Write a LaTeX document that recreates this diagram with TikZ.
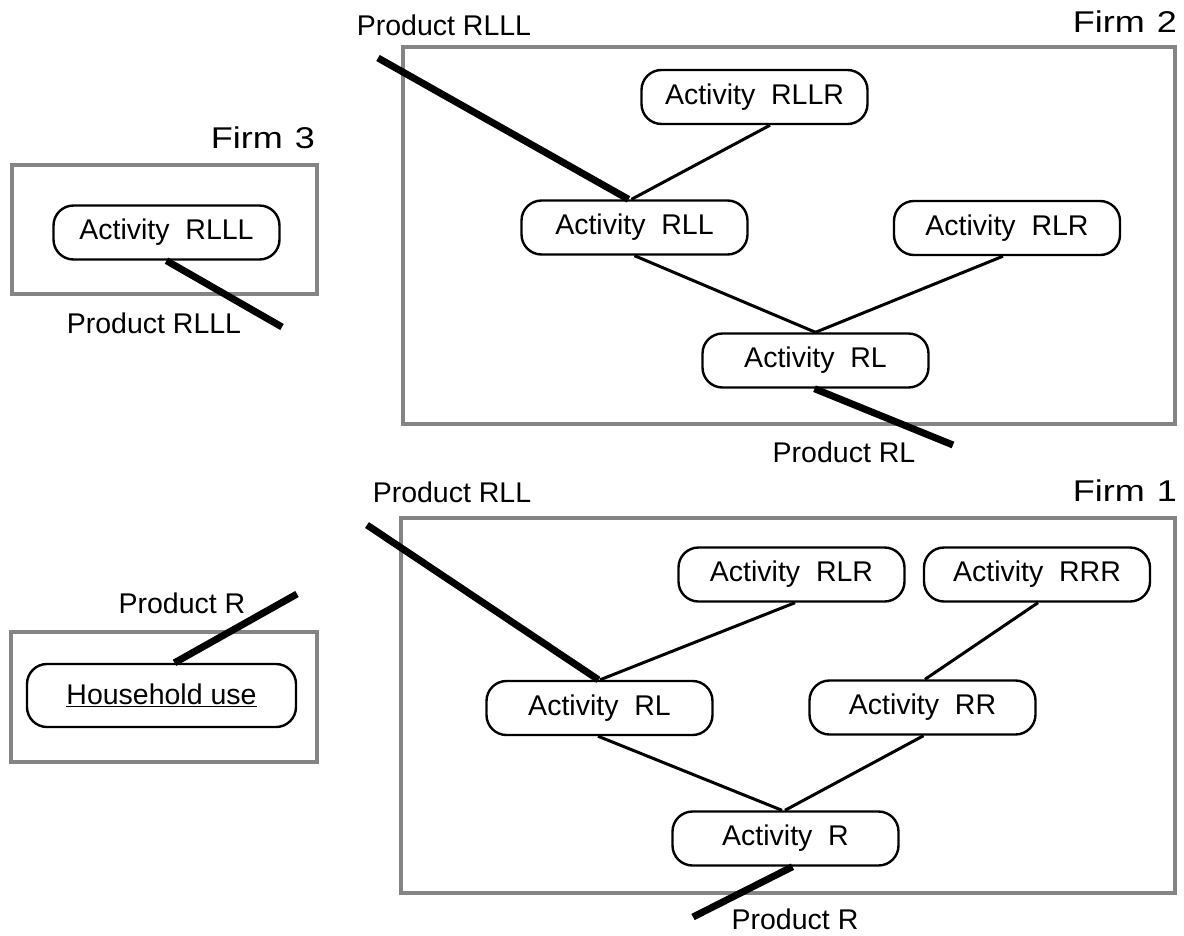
\documentclass[tikz,border=0pt]{standalone}
\usepackage{fontspec}
\setmainfont{Liberation Sans}
\newfontfamily\firmfont[FakeStretch=1.2]{Liberation Sans}
\begin{document}
\begin{tikzpicture}[x=1pt,y=-1pt,
  act/.style={draw=black,line width=2.4pt,rounded corners=20pt,minimum width=226pt,minimum height=54pt,inner sep=0pt,font=\fontsize{28.5}{32}\selectfont,fill=white},
  firm/.style={draw=black!48,line width=4.5pt},
  flow/.style={line width=3pt,black},
  prod/.style={line width=7pt,black},
  lab/.style={font=\fontsize{28.5}{32}\selectfont,inner sep=0pt,anchor=base},
  firmlab/.style={font=\firmfont\fontsize{30}{34}\selectfont,inner sep=0pt,anchor=base east}]
\useasboundingbox (0,0) rectangle (1184,935);
% Firm boxes
\draw[firm] (403,47) rectangle (1175,424);
\draw[firm] (12,165) rectangle (317,294);
\draw[firm] (401,518) rectangle (1175,893);
\draw[firm] (11,632) rectangle (317,762);
% Firm labels
\node[firmlab] (f2) at (1177,32) {Firm\hspace{12pt}2};
\node[firmlab] (f3) at (315,148) {Firm\hspace{12pt}3};
\node[firmlab] (f1) at (1177,501) {Firm\hspace{12pt}1};
% Firm 2 nodes
\node[act] (rllr) at (754.5,97) {Activity\ \ RLLR};
\node[act] (rll) at (634.5,227.5) {Activity\ \ RLL};
\node[act] (rlr2) at (1007,228) {Activity\ \ RLR};
\node[act] (rl2) at (815.5,360.5) {Activity\ \ RL};
% Firm 3
\node[act] (rlll) at (166.5,232.5) {Activity\ \ RLLL};
% Firm 1
\node[act] (rlr1) at (791.5,574.5) {Activity\ \ RLR};
\node[act] (rrr) at (1037,574.5) {Activity\ \ RRR};
\node[act] (rl1) at (599.5,708) {Activity\ \ RL};
\node[act] (rr) at (922.5,707.5) {Activity\ \ RR};
\node[act] (r) at (785.5,838.5) {Activity\ \ R};
% Household
\node[act,minimum width=269pt,minimum height=63pt] (hh) at (161.5,695.5) {\underline{Household use}};
% thin flows
\draw[flow] ([xshift=15.5pt]rllr.south) -- ([xshift=-3pt]rll.north);
\draw[flow] (rll.south) -- (rl2.north);
\draw[flow] ([xshift=-4pt]rlr2.south) -- (rl2.north);
\draw[flow] ([xshift=3.5pt]rlr1.south) -- ([xshift=0.5pt]rl1.north);
\draw[flow] ([xshift=1pt]rrr.south) -- ([xshift=2.5pt]rr.north);
\draw[flow] ([xshift=-1.5pt]rl1.south) -- ([xshift=-3.5pt]r.north);
\draw[flow] ([xshift=1pt]rr.south) -- ([xshift=-0.5pt]r.north);
% product lines
\coordinate (p2in) at (378,58);
\coordinate (p2out) at (953,445);
\coordinate (p3out) at (282,327);
\coordinate (p1in) at (367,525);
\coordinate (p1out) at (693,917);
\coordinate (hhin) at (297,594);
\draw[prod] (p2in) -- ([xshift=-6pt]rll.north);
\draw[prod] ([xshift=-1pt]rl2.south) -- (p2out);
\draw[prod] (rlll.south) -- (p3out);
\draw[prod] (p1in) -- ([xshift=-1pt]rl1.north);
\draw[prod] ([xshift=7pt]r.south) -- (p1out);
\draw[prod] ([xshift=13pt]hh.north) -- (hhin);
% product labels
\node[lab] (l1) at (444,35) {Product RLLL};
\node[lab] (l2) at (154,333) {Product RLLL};
\node[lab] (l3) at (844,462) {Product RL};
\node[lab] (l4) at (452,502) {Product RLL};
\node[lab] (l5) at (182,613) {Product R};
\node[lab] (l6) at (795,929) {Product R};
\end{tikzpicture}
\end{document}
